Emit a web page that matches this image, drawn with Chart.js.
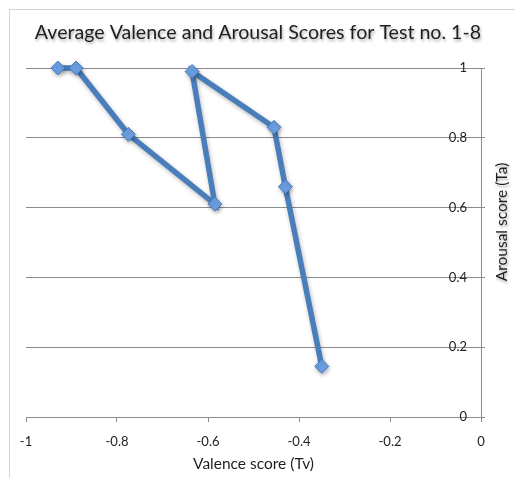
<!DOCTYPE html>
<html>
<head>
<meta charset="utf-8">
<script src="https://cdn.jsdelivr.net/npm/chart.js@4/dist/chart.umd.min.js"></script>
<style>
  html, body { margin: 0; padding: 0; background: #fff; }
  #wrap { width: 515px; height: 478px; position: relative; }
</style>
</head>
<body>
<div id="wrap"><canvas id="c" width="515" height="478"></canvas></div>
<script>
// Average scores per test (tests 1-8, in order)
const tests = [1, 2, 3, 4, 5, 6, 7, 8];
const valence = [-0.93, -0.89, -0.775, -0.585, -0.635, -0.455, -0.43, -0.35];
const arousal = [1.0, 1.0, 0.81, 0.61, 0.99, 0.83, 0.66, 0.145];

// Axis ticks
const xTicks = [-1, -0.8, -0.6, -0.4, -0.2, 0];
const yTicks = [0, 0.2, 0.4, 0.6, 0.8, 1];

const chartTitle = 'Average Valence and Arousal Scores for Test no. 1-8';
const xTitle = 'Valence score (Tv)';
const yTitle = 'Arousal score (Ta)';

const FONT = 'Lato, "Open Sans", sans-serif';

const points = tests.map((t, i) => ({ x: valence[i], y: arousal[i] }));

// Outer frame, title and rotated right-axis title
const decor = {
  id: 'decor',
  beforeDraw(chart) {
    const ctx = chart.ctx;
    ctx.save();
    ctx.strokeStyle = '#d4d4d4';
    ctx.lineWidth = 1;
    ctx.strokeRect(9.5, 9.5, 700, 700);
    ctx.restore();
  },
  afterDraw(chart) {
    const ctx = chart.ctx;
    ctx.save();
    ctx.fillStyle = '#1e1e1e';
    ctx.shadowColor = 'rgba(0,0,0,0.35)';
    ctx.shadowBlur = 3;
    ctx.shadowOffsetX = 1;
    ctx.shadowOffsetY = 2;
    ctx.textAlign = 'center';
    ctx.textBaseline = 'middle';
    ctx.font = '19.6px ' + FONT;
    ctx.fillText(chartTitle, 258, 33);

    ctx.font = '15.5px ' + FONT;
    ctx.translate(502, 222);
    ctx.rotate(-Math.PI / 2);
    ctx.fillText(yTitle, 0, 0);
    ctx.restore();
  }
};

// Soft drop shadow under the series
const seriesShadow = {
  id: 'seriesShadow',
  beforeDatasetsDraw(chart) {
    const ctx = chart.ctx;
    ctx.save();
    ctx.shadowColor = 'rgba(0,0,0,0.28)';
    ctx.shadowBlur = 4;
    ctx.shadowOffsetX = 1;
    ctx.shadowOffsetY = 2;
  },
  afterDatasetsDraw(chart) {
    chart.ctx.restore();
  }
};

const plain = v => String(v);

new Chart(document.getElementById('c'), {
  type: 'scatter',
  data: {
    datasets: [{
      label: 'Tests 1-8',
      data: points,
      showLine: true,
      clip: false,
      borderColor: '#4a7ebb',
      borderWidth: 5.5,
      pointStyle: 'rectRot',
      pointRadius: 7,
      pointHoverRadius: 7,
      pointBackgroundColor: '#6b9fe2',
      pointBorderColor: '#4a7ebb',
      pointBorderWidth: 1,
      tension: 0
    }]
  },
  options: {
    responsive: false,
    animation: false,
    events: [],
    layout: { padding: { top: 68, left: 26, right: 0, bottom: 0 } },
    plugins: {
      legend: { display: false },
      title: { display: false },
      tooltip: { enabled: false }
    },
    scales: {
      x: {
        type: 'linear',
        position: 'bottom',
        min: -1,
        max: 0,
        afterBuildTicks(scale) { scale.ticks = xTicks.map(v => ({ value: v })); },
        afterFit(scale) { scale.height = 61; },
        grid: {
          drawOnChartArea: false,
          drawTicks: true,
          tickLength: 5,
          color: '#8c8c8c'
        },
        border: { display: true, color: '#8c8c8c', width: 1 },
        ticks: {
          padding: 12,
          color: '#222',
          font: { family: FONT, size: 13 },
          maxRotation: 0,
          callback: plain
        },
        title: {
          display: true,
          text: xTitle,
          color: '#1e1e1e',
          font: { family: FONT, size: 15.5 },
          padding: { top: 0, bottom: 5 }
        }
      },
      y: {
        type: 'linear',
        position: 'right',
        min: 0,
        max: 1,
        afterBuildTicks(scale) { scale.ticks = yTicks.map(v => ({ value: v })); },
        afterFit(scale) { scale.width = 34; },
        grid: {
          drawOnChartArea: true,
          drawTicks: true,
          tickLength: 4,
          color: '#8c8c8c'
        },
        border: { display: true, color: '#8c8c8c', width: 1 },
        ticks: {
          mirror: true,
          padding: -14,
          color: '#222',
          font: { family: FONT, size: 13 },
          callback: plain
        },
        title: { display: false }
      }
    }
  },
  plugins: [decor, seriesShadow]
});
</script>
</body>
</html>
